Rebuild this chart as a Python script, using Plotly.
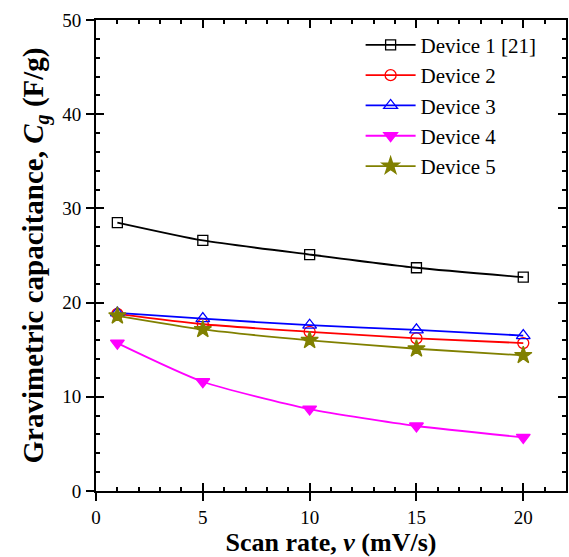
import plotly.graph_objects as go

scan_rate = [1, 5, 10, 15, 20]
device1 = [28.5, 26.6, 25.1, 23.7, 22.7]
device2 = [18.8, 17.7, 16.9, 16.2, 15.7]
device3 = [18.9, 18.3, 17.6, 17.1, 16.5]
device4 = [15.7, 11.6, 8.7, 6.9, 5.7]
device5 = [18.6, 17.15, 16.0, 15.1, 14.4]

x_ticks = [0, 5, 10, 15, 20]
y_ticks = [0, 10, 20, 30, 40, 50]

names = ["Device 1 [21]", "Device 2", "Device 3", "Device 4", "Device 5"]
series = [device1, device2, device3, device4, device5]
colors = ["#000000", "#ff0000", "#0000ff", "#ff00ff", "#808000"]
symbols = ["square-open", "circle-open", "triangle-up-open", "triangle-down", "star"]
sizes = [10, 11, 12, 12, 13]

FONT = "Liberation Serif"
XR = [0, 22]
YR = [0, 50]

fig = go.Figure()
for n, s, c, sym, sz in zip(names, series, colors, symbols, sizes):
    fig.add_trace(go.Scatter(
        x=scan_rate, y=s, name=n, mode="lines+markers",
        line=dict(color=c, width=1.8, shape="spline", smoothing=0.6),
        marker=dict(symbol=sym, size=sz, color=c,
                    line=dict(color=c, width=1.3)),
    ))

tickfont = dict(family=FONT, size=19, color="black")

fig.update_layout(
    xaxis=dict(
        range=XR, tickvals=x_ticks, showline=True, linecolor="black", linewidth=2,
        mirror=True, ticks="outside", ticklen=8, tickwidth=2, tickcolor="black",
        showgrid=False, zeroline=False, tickfont=tickfont, ticklabelstandoff=0,
        title=dict(text="<b>Scan rate, <i>ν</i> (mV/s)</b>",
                   font=dict(family=FONT, size=26, color="black"), standoff=7),
    ),
    yaxis=dict(
        range=YR, tickvals=y_ticks, showline=True, linecolor="black", linewidth=2,
        mirror=True, ticks="outside", ticklen=8, tickwidth=2, tickcolor="black",
        showgrid=False, zeroline=False, tickfont=tickfont, ticklabelstandoff=1,
        title=dict(text="<b>Gravimetric capacitance, <i>C</i><sub><i>g</i></sub> (F/g)</b>",
                   font=dict(family=FONT, size=29, color="black"), standoff=10),
    ),
    xaxis2=dict(
        range=XR, overlaying="x", anchor="y", side="bottom", tickvals=x_ticks,
        ticks="inside", ticklen=8, tickwidth=2, tickcolor="black", mirror="ticks",
        showline=False, showgrid=False, zeroline=False, showticklabels=False,
        minor=dict(ticks="inside", ticklen=4, tickwidth=1.5, dtick=1, tick0=0,
                   tickcolor="black", showgrid=False),
    ),
    yaxis2=dict(
        range=YR, overlaying="y", anchor="x", side="left", tickvals=y_ticks,
        ticks="inside", ticklen=8, tickwidth=2, tickcolor="black", mirror="ticks",
        showline=False, showgrid=False, zeroline=False, showticklabels=False,
        minor=dict(ticks="inside", ticklen=4, tickwidth=1.5, dtick=2, tick0=0,
                   tickcolor="black", showgrid=False),
    ),
    width=569, height=557,
    margin=dict(l=96, r=1, t=20, b=66),
    plot_bgcolor="white", paper_bgcolor="white",
    font=dict(family=FONT, color="black"),
    legend=dict(x=0.563, y=0.99, xanchor="left", yanchor="top",
                bgcolor="rgba(0,0,0,0)", borderwidth=0,
                font=dict(family=FONT, size=21, color="black"),
                tracegroupgap=0, itemwidth=50),
    showlegend=True,
)

fig.add_trace(go.Scatter(x=[None], y=[None], xaxis="x2", yaxis="y2",
                         showlegend=False, hoverinfo="skip"))

fig.write_html("out.html")
